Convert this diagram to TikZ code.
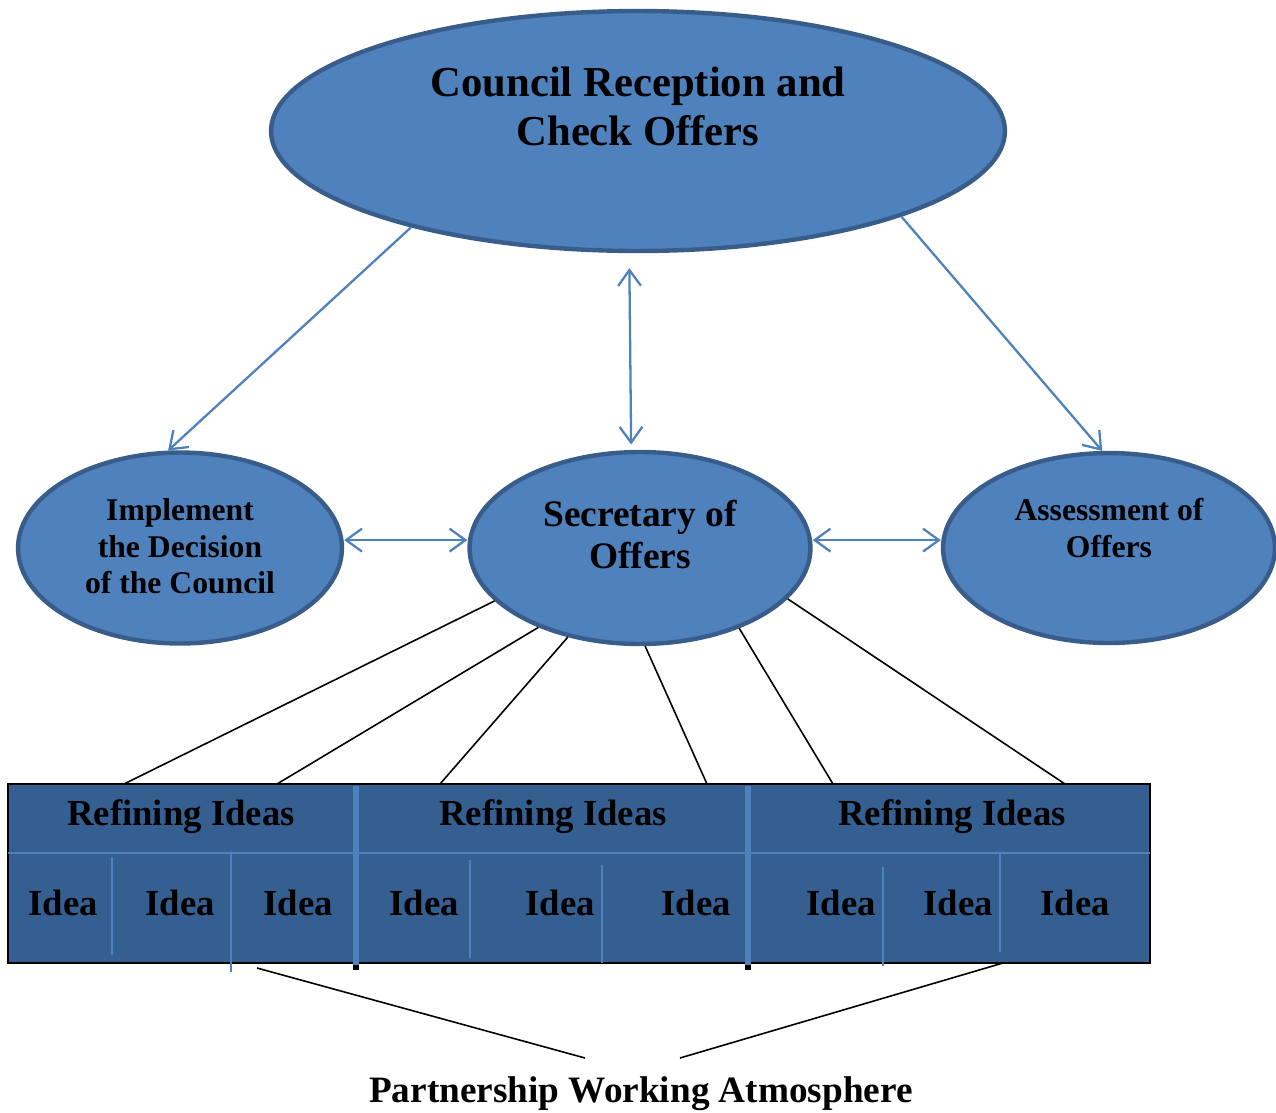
\documentclass[tikz,border=0pt]{standalone}
\usepackage{fontspec}
\setmainfont{Liberation Serif}
\usetikzlibrary{shapes.geometric,arrows.meta}
\definecolor{ovalFill}{RGB}{79,129,189}
\definecolor{ovalLine}{RGB}{56,93,138}
\definecolor{tableFill}{RGB}{54,95,145}

\tikzset{
  oval/.style={ellipse, draw=ovalLine, fill=ovalFill, line width=2.5pt, inner sep=0pt},
  arr/.style={draw=ovalFill, line width=1.3pt, -{Straight Barb[length=9pt,width=13pt]}},
  dblarr/.style={arr, {Straight Barb[length=9pt,width=13pt]}-{Straight Barb[length=9pt,width=13pt]}},
  thinline/.style={draw=ovalFill, line width=0.8pt},
  cell/.style={font=\bfseries\fontsize{20.9}{24}\selectfont, inner sep=0pt}
}

\begin{document}
\begin{tikzpicture}[x=0.02cm, y=-0.02cm]
  \path[use as bounding box] (0,0) rectangle (1276,1113);

  % ovals
  \node[oval, minimum width=14.68cm, minimum height=4.8cm] (council) at (638,131) {};
  \node[font=\bfseries\fontsize{24.3}{28}\selectfont, align=center] (council-txt) at ([yshift=14pt]council.center) {Council Reception and\\Check Offers};

  \node[oval, minimum width=6.48cm, minimum height=3.82cm] (impl) at (180,548) {};
  \node[font=\bfseries\fontsize{18}{20.7}\selectfont, align=center] (impl-txt) at ([yshift=1pt]impl.center) {Implement\\the Decision\\of the Council};

  \node[oval, minimum width=6.82cm, minimum height=3.84cm] (sec) at (640,548) {};
  \node[font=\bfseries\fontsize{21.3}{24.4}\selectfont, align=center] (sec-txt) at ([yshift=7.7pt]sec.center) {Secretary of\\Offers};

  \node[oval, minimum width=6.64cm, minimum height=3.8cm] (assess) at (1109,548) {};
  \node[font=\bfseries\fontsize{18}{20.7}\selectfont, align=center] (assess-txt) at ([yshift=11.3pt]assess.center) {Assessment of\\Offers};

  % blue arrows
  \draw[arr] (council.203.8) -- (impl.97);
  \draw[arr] (council.342.2) -- (assess.94.8);
  \draw[dblarr, shorten <=8.5pt, shorten >=3pt] ([xshift=-5pt]council.south) -- ([xshift=-5pt]sec.north);
  \draw[dblarr] ([yshift=4.5pt]impl.east) -- ([yshift=4.5pt]sec.west);
  \draw[dblarr] ([yshift=4.5pt]sec.east) -- ([yshift=4.5pt]assess.west);

  % table
  \draw[black, fill=tableFill, line width=0.6pt] (8,784) rectangle (1150,963);
  \draw[thinline, line width=1.1pt] (8,853) -- (1150,853);
  \draw[thinline] (112,857) -- (112,955);
  \draw[thinline] (231,853) -- (231,972);
  \draw[thinline] (470,860) -- (470,958);
  \draw[thinline] (602,865) -- (602,963);
  \draw[thinline] (883,867) -- (883,966);
  \draw[thinline] (1000,853) -- (1000,952);
  \foreach \x in {356,748} {
    \fill[black] (\x-3,960) rectangle (\x+3,970);
    \draw[draw=ovalFill, line width=3.4pt] (\x,786) -- (\x,965);
  }

  \node[cell] (head-a) at (181,817) {Refining Ideas};
  \node[cell] (head-b) at (553,817) {Refining Ideas};
  \node[cell] (head-c) at (952,817) {Refining Ideas};
  \foreach \x/\n in {63/a1,180/a2,298/a3,424/b1,560/b2,696/b3,841/c1,958/c2,1075/c3}
    \node[cell] (idea-\n) at (\x,903) {Idea};

  % lines to the table
  \coordinate (t1) at (124,784);
  \coordinate (t2) at (277,784);
  \coordinate (t3) at (440,784);
  \coordinate (t4) at (707,784);
  \coordinate (t5) at (833,784);
  \coordinate (t6) at (1065,784);
  \draw[black, line width=0.9pt] (sec.200.6) -- (t1);
  \draw[black, line width=0.9pt] (sec.218.3) -- (t2);
  \draw[black, line width=0.9pt] (sec.231.5) -- (t3);
  \draw[black, line width=0.9pt] (sec.273) -- (t4);
  \draw[black, line width=0.9pt] (sec.321) -- (t5);
  \draw[black, line width=0.9pt] (sec.341.9) -- (t6);

  % bottom
  \node[font=\bfseries\fontsize{21.2}{24}\selectfont, inner sep=0pt] (pwa) at (641,1094) {Partnership Working Atmosphere};
  \coordinate (b1) at (257,968);
  \coordinate (b2) at (585,1058);
  \coordinate (b3) at (1003,963);
  \coordinate (b4) at (680,1058);
  \draw[black, line width=0.9pt] (b1) -- (b2);
  \draw[black, line width=0.9pt] (b3) -- (b4);
\end{tikzpicture}
\end{document}
